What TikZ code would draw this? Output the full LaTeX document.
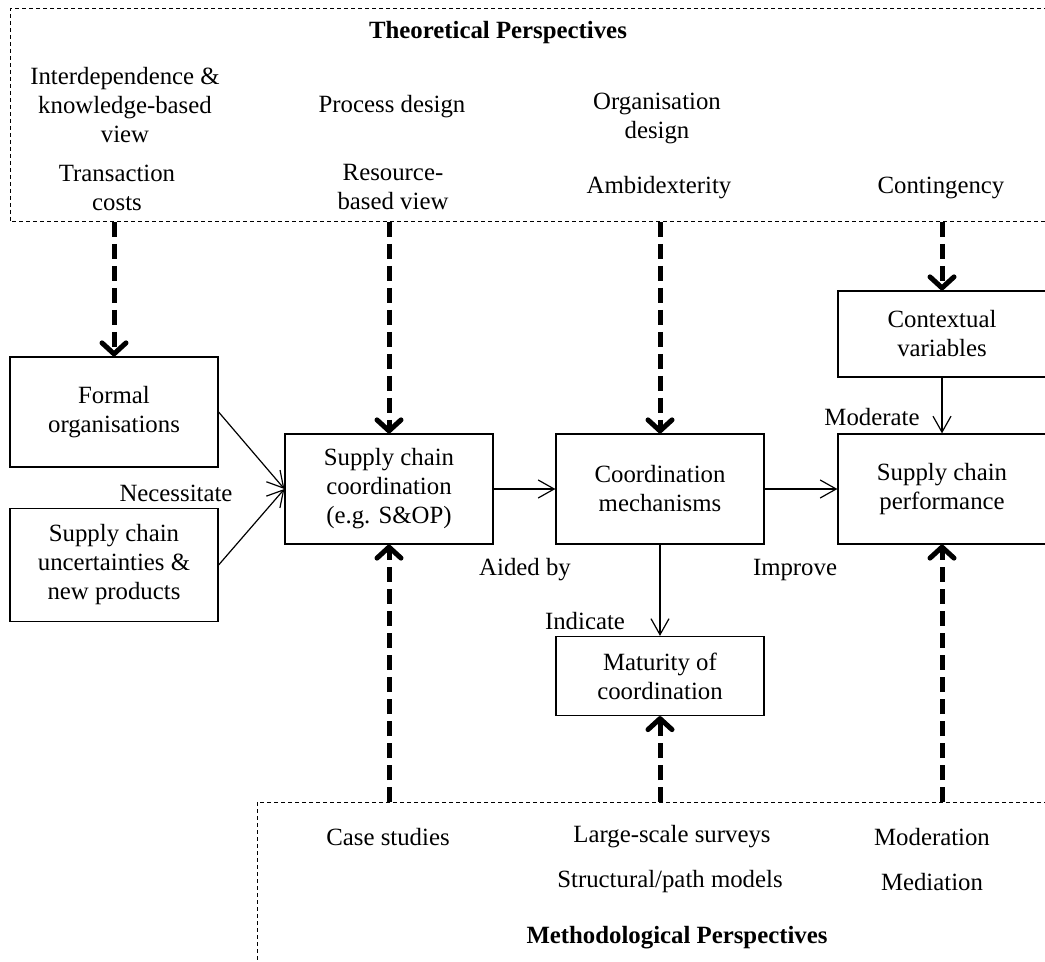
\documentclass[tikz,border=0pt]{standalone}
\usepackage{fontspec}
\setmainfont{Liberation Serif}
\usetikzlibrary{arrows.meta}
\begin{document}
\begin{tikzpicture}[x=0.5pt,y=-0.5pt,font=\fontsize{12.4}{14.5}\selectfont,
		box/.style={draw,line width=0.6pt,minimum width=104pt,align=center,inner sep=0pt},
		link/.style={line width=0.6pt,-{Straight Barb[length=8pt,width=9pt]}},
		persp/.style={line width=2.5pt,dash pattern=on 7.5pt off 3.5pt,-{Straight Barb[length=5.5pt,width=12pt,line cap=round,line join=round]}},
		frame/.style={line width=0.5pt,dash pattern=on 2pt off 1.5pt},
		lbl/.style={align=center,inner sep=0pt}]
		\useasboundingbox (0,0) rectangle (1045,962);
		\draw[frame] (1048,9)--(10,9)--(10,222)--(1048,222);
		\draw[frame] (1048,802)--(257,802)--(257,964);
		\node[lbl] (theory) at (498,33) {\bfseries Theoretical Perspectives};
		\node[lbl] (interdep) at (125,105) {Interdependence \&\\knowledge-based\\view};
		\node[lbl] (transcost) at (117,188) {Transaction\\costs};
		\node[lbl] (procdesign) at (392,107) {Process design};
		\node[lbl] (rbv) at (393,187) {Resource-\\based view};
		\node[lbl] (orgdesign) at (657,118) {Organisation\\design};
		\node[lbl] (ambidex) at (659,188) {Ambidexterity};
		\node[lbl] (conting) at (941,188) {Contingency};
		\node[box,minimum height=55pt] (formal) at (114,412) {Formal\\organisations};
		\node[box,minimum height=56.5pt] (uncert) at (114,565) {Supply chain\\uncertainties \&\\new products};
		\node[box,minimum height=55pt] (scc) at (389,489) {Supply chain\\coordination\\(e.g. S\&OP)};
		\node[box,minimum height=55pt] (mech) at (660,489) {Coordination\\mechanisms};
		\node[box,minimum height=55pt] (perf) at (942,489) {Supply chain\\performance};
		\node[box,minimum height=43pt] (context) at (942,334) {Contextual\\variables};
		\node[box,minimum height=39.5pt] (maturity) at (660,676) {Maturity of\\coordination};
		\draw[link] (formal.east)--(scc.west);
		\draw[link] (uncert.east)--(scc.west);
		\draw[link] (scc)--(mech);
		\draw[link] (mech)--(perf);
		\draw[link] (mech)--(maturity);
		\draw[link] (context)--(perf);
		\node[lbl] (necess) at (176,493) {Necessitate};
		\node[lbl] (aided) at (525,570) {Aided by};
		\node[lbl] (improve) at (795,570) {Improve};
		\node[lbl] (indicate) at (585,621) {Indicate};
		\node[lbl] (moderate) at (872,417) {Moderate};
		\coordinate (topA) at (114,222);
		\coordinate (topB) at (389,222);
		\coordinate (topC) at (660,222);
		\coordinate (topD) at (942,222);
		\coordinate (botA) at (389,802);
		\coordinate (botB) at (660,802);
		\coordinate (botC) at (942,802);
		\draw[persp] (topA)--(formal.north);
		\draw[persp] (topB)--(scc.north);
		\draw[persp] (topC)--(mech.north);
		\draw[persp] (topD)--(context.north);
		\draw[persp] (botA)--(scc.south);
		\draw[persp] (botB)--(maturity.south);
		\draw[persp] (botC)--(perf.south);
		\node[lbl] (casestudy) at (388,837) {Case studies};
		\node[lbl] (survey) at (672,837) {Large-scale surveys};
		\node[lbl] (sem) at (670,882) {Structural/path models};
		\node[lbl] (moderation) at (932,837) {Moderation};
		\node[lbl] (mediation) at (932,882) {Mediation};
		\node[lbl] (methods) at (677,938) {\bfseries Methodological Perspectives};
\end{tikzpicture}
\end{document}
